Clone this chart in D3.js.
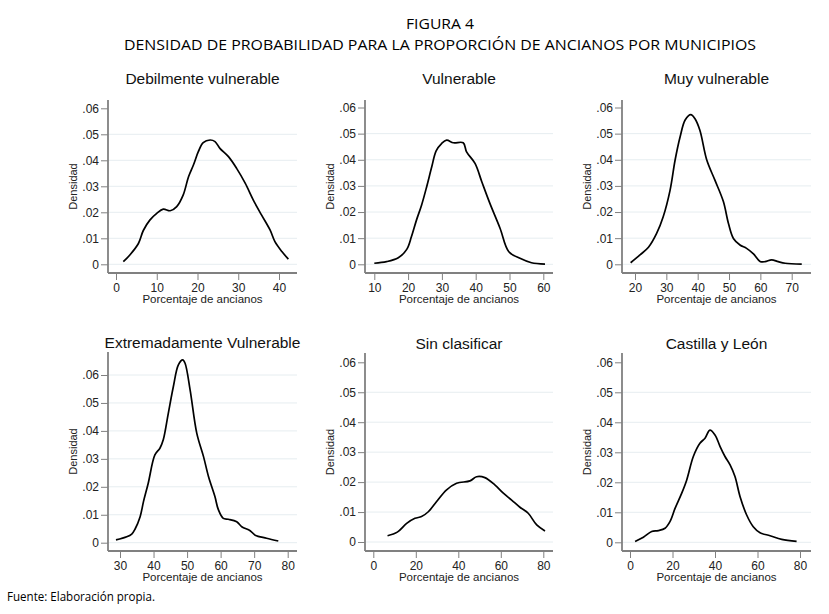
<!DOCTYPE html>
<html>
<head>
<meta charset="utf-8">
<script src="https://cdn.jsdelivr.net/npm/d3@7"></script>
<style>
  body { margin: 0; background: #fff; }
  svg { display: block; }
</style>
</head>
<body>
<svg id="chart" width="829" height="614"></svg>
<script>
// panel titles, in reading order
const titles = ["Debilmente vulnerable", "Vulnerable", "Muy vulnerable",
  "Extremadamente Vulnerable", "Sin clasificar", "Castilla y León"];

// x tick labels for each panel
const xTicks = [
  [0, 10, 20, 30, 40],
  [10, 20, 30, 40, 50, 60],
  [20, 30, 40, 50, 60, 70],
  [30, 40, 50, 60, 70, 80],
  [0, 20, 40, 60, 80],
  [0, 20, 40, 60, 80]
];
const yTicks = [0, 0.01, 0.02, 0.03, 0.04, 0.05, 0.06];

// density curves: [porcentaje, densidad]
const debil = [[1.8, .001], [3.4, .0036], [5.5, .008], [6.7, .013], [8.3, .017], [10, .0196],
  [11.6, .0212], [13.3, .0206], [14.9, .0222], [16.5, .0267], [17.8, .0337], [19, .0382],
  [20.2, .0433], [21.4, .0468], [23.1, .0478], [24.3, .0472], [25.5, .0446], [27.6, .0414],
  [29.6, .0369], [31.7, .0312], [33.7, .0247], [35.7, .019], [37.8, .0132], [39, .0087],
  [40.7, .0049], [42.3, .002]];
const vuln = [[10, .0004], [13.6, .001], [17.1, .0025], [19.6, .0057], [21, .0106], [22.5, .017],
  [24, .0227], [25.5, .0297], [27, .0373], [28.3, .0434], [29.9, .0462], [31.4, .0475],
  [33.4, .0465], [36.3, .0465], [37.3, .043], [39.8, .0386], [41.8, .0316], [44.2, .0233],
  [47.2, .0138], [49.8, .0048], [53.1, .0023], [56.5, .0006], [60.5, .0001]];
const muy = [[18.6, .0006], [21.6, .0036], [24.3, .0065], [26.9, .0118], [29, .0182], [31.2, .0284],
  [32.8, .0399], [34.4, .0488], [36, .0552], [37.8, .0573], [39.1, .0558], [40.7, .0513],
  [42.9, .0399], [45.5, .0322], [48.2, .024], [49.8, .0157], [51.4, .0099], [53.5, .0074],
  [55.6, .0061], [57.8, .004], [59.9, .0011], [61.5, .001], [63.6, .0017], [65.7, .001],
  [67.9, .0004], [73.2, .0001]];
const extrem = [[28.8, .001], [32, .0021], [33.5, .0031], [34.5, .0049], [36, .0093], [37, .0147],
  [38.4, .0212], [40.4, .0314], [41.9, .0338], [42.9, .0368], [44.4, .0463], [45.9, .0558],
  [47.4, .0636], [48.7, .0654], [49.4, .0642], [50.9, .0547], [52.9, .0391], [54.9, .0308],
  [56.4, .0236], [58.3, .0165], [59.3, .0119], [60.8, .0087], [62.3, .0084], [64.8, .0075],
  [66.3, .0057], [68.8, .0043], [70.3, .0027], [73.7, .0016], [77.2, .0006]];
const sinClas = [[6.7, .0021], [11.3, .0033], [15.7, .0062], [19.6, .0079], [22.7, .0085],
  [25.9, .0101], [29.8, .0135], [34.5, .0174], [39.2, .0196], [45.5, .0204], [48.6, .0218],
  [52.5, .0215], [57.3, .019], [61.2, .0163], [65.1, .014], [69, .0116], [72.9, .0096],
  [76.9, .0057], [80.8, .0037]];
const castilla = [[2.4, .0003], [6.3, .0017], [10.2, .0036], [13.3, .0039], [16.5, .0047],
  [18.8, .0069], [21.2, .0113], [24.3, .0163], [26.7, .0208], [29.8, .0286], [32.9, .033],
  [35.3, .0347], [37.6, .0374], [40, .0358], [42.4, .0319], [44.7, .0286], [47.1, .0258],
  [49.4, .0219], [51.8, .0152], [54.9, .0091], [58, .0052], [61.2, .0032], [65.9, .0022],
  [71.4, .001], [78.4, .0003]];
const series = [debil, vuln, muy, extrem, sinClas, castilla];

const svg = d3.select("#chart");
const axisColor = "#808080";
const gridColor = "#e6edf0";
const arial = "'Liberation Sans', Arial, sans-serif";
const calibri = "'Open Sans', sans-serif";

// frame of each panel in page pixels
const frames = [
  { left: 108, right: 297, top: 100, bottom: 273, x0: 116, x1: 279, y0: 264.3, y06: 108.3, titleY: 84 },
  { left: 365, right: 553, top: 100, bottom: 273, x0: 374.3, x1: 543.3, y0: 264.3, y06: 107.5, titleY: 84 },
  { left: 622, right: 811, top: 100, bottom: 273, x0: 635, x1: 791.7, y0: 264.3, y06: 107.5, titleY: 84 },
  { left: 108, right: 297, top: 352, bottom: 551, x0: 120, x1: 287.7, y0: 542.7, y06: 375, titleY: 348 },
  { left: 365, right: 553, top: 353, bottom: 551, x0: 373.3, x1: 543.3, y0: 542, y06: 362.3, titleY: 349 },
  { left: 622, right: 811, top: 353, bottom: 551, x0: 630, x1: 800, y0: 542.3, y06: 362.3, titleY: 349 }
];

frames.forEach((f, i) => {
  const xt = xTicks[i];
  const x = d3.scaleLinear().domain([xt[0], xt[xt.length - 1]]).range([f.x0, f.x1]);
  const y = d3.scaleLinear().domain([0, 0.06]).range([f.y0, f.y06]);
  const g = svg.append("g");
  const cx = (f.left + f.right) / 2;

  // gridlines
  g.selectAll("line.grid")
    .data(yTicks.filter(t => y(t) > f.top + 12))
    .join("line")
    .attr("x1", f.left).attr("x2", f.right)
    .attr("y1", d => y(d)).attr("y2", d => y(d))
    .attr("stroke", gridColor).attr("stroke-width", 1);

  // y axis
  const yAxis = d3.axisLeft(y).tickValues(yTicks).tickSize(7).tickPadding(2)
    .tickFormat(d => d === 0 ? "0" : d3.format(".2f")(d).replace(/^0/, ""));
  const ga = g.append("g").attr("transform", `translate(${f.left},0)`).call(yAxis);
  ga.select(".domain").remove();
  g.append("line")
    .attr("x1", f.left).attr("x2", f.left).attr("y1", f.top).attr("y2", f.bottom)
    .attr("stroke", axisColor).attr("stroke-width", 1.8);

  // x axis
  const xAxis = d3.axisBottom(x).tickValues(xt).tickSize(7).tickPadding(3);
  const gx = g.append("g").attr("transform", `translate(0,${f.bottom})`).call(xAxis);
  gx.select(".domain").remove();
  g.append("line")
    .attr("x1", f.left).attr("x2", f.right).attr("y1", f.bottom).attr("y2", f.bottom)
    .attr("stroke", axisColor).attr("stroke-width", 1.8);

  g.selectAll(".tick line").attr("stroke", axisColor).attr("stroke-width", 1);
  g.selectAll(".tick text")
    .attr("fill", "#222")
    .style("font-family", arial)
    .style("font-size", "12px");

  // curve
  g.append("path")
    .datum(series[i])
    .attr("fill", "none")
    .attr("stroke", "#000")
    .attr("stroke-width", 1.7)
    .attr("d", d3.line().x(d => x(d[0])).y(d => y(d[1])).curve(d3.curveCatmullRom));

  // labels
  g.append("text")
    .attr("x", cx).attr("y", f.titleY)
    .attr("text-anchor", "middle")
    .style("font-family", arial)
    .style("font-size", "15.5px")
    .attr("fill", "#111")
    .text(titles[i]);

  g.append("text")
    .attr("x", cx).attr("y", f.bottom + 30)
    .attr("text-anchor", "middle")
    .style("font-family", arial)
    .style("font-size", "11.5px")
    .attr("fill", "#222")
    .text("Porcentaje de ancianos");

  g.append("text")
    .attr("transform", `translate(${f.left - 31},${(f.top + f.bottom) / 2}) rotate(-90)`)
    .attr("text-anchor", "middle")
    .style("font-family", arial)
    .style("font-size", "11px")
    .attr("fill", "#222")
    .text("Densidad");
});

// figure heading and source
svg.append("text")
  .attr("x", 440).attr("y", 29)
  .attr("text-anchor", "middle")
  .style("font-family", calibri)
  .style("font-size", "15px")
  .attr("textLength", 68).attr("lengthAdjust", "spacingAndGlyphs")
  .attr("fill", "#000")
  .text("FIGURA 4");
svg.append("text")
  .attr("x", 440).attr("y", 50)
  .attr("text-anchor", "middle")
  .style("font-family", calibri)
  .style("font-size", "15px")
  .attr("textLength", 632).attr("lengthAdjust", "spacingAndGlyphs")
  .attr("fill", "#000")
  .text("DENSIDAD DE PROBABILIDAD PARA LA PROPORCIÓN DE ANCIANOS POR MUNICIPIOS");
svg.append("text")
  .attr("x", 7).attr("y", 601)
  .style("font-family", calibri)
  .style("font-size", "12px")
  .attr("textLength", 148).attr("lengthAdjust", "spacingAndGlyphs")
  .attr("fill", "#000")
  .text("Fuente: Elaboración propia.");
</script>
</body>
</html>
